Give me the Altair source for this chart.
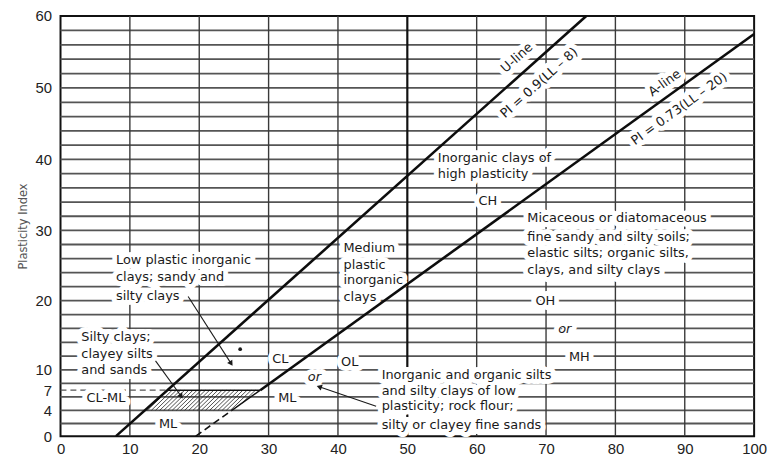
import math
import altair as alt
import pandas as pd
import numpy as np

# ---------------- data ----------------
h_grid_pi = [2, 4, 6, 8, 10, 12, 14, 16, 18, 20, 22, 24, 26, 28, 30, 32, 34, 36,
             38, 40, 42, 44, 46, 48, 50, 52, 54, 56, 58]
v_grid_ll = [10, 20, 30, 40, 60, 70, 80, 90]
b_line_ll = [50]

u_ll = [8, 75.8]
u_pi = [0, 60]
a_ll = [28.8, 100]
a_pi = [7, 57.5]
a_thin_ll = [24.7, 28.8]
a_thin_pi = [4, 7]
a_dash_ll = [19.5, 24.7]
a_dash_pi = [0, 4]
pi7_dash_ll = [0, 15.4]
pi7_top_ll = [15.4, 28.8]
clml_ll = [12.2, 15.4, 28.8, 24.7]   # corners (PI 4, PI 7, PI 7, PI 4)
clml_pi = [4, 7, 7, 4]

left_text = ["Low plastic inorganic", "clays; sandy and", "silty clays",
             "Silty clays;", "clayey silts", "and sands",
             "Medium", "plastic", "inorganic", "clays",
             "Inorganic clays of", "high plasticity",
             "Micaceous or diatomaceous", "fine sandy and silty soils;",
             "elastic silts; organic silts,", "clays, and silty clays",
             "Inorganic and organic silts", "and silty clays of low",
             "plasticity; rock flour;", "silty or clayey fine sands"]
left_ll = [8.0, 8.0, 8.0, 3.0, 3.0, 3.0, 40.8, 40.8, 40.8, 40.8, 54.4, 54.4,
           67.3, 67.3, 67.3, 67.3, 46.3, 46.3, 46.3, 46.3]
left_pi = [25.8, 23.4, 20.7, 14.8, 12.3, 10.0, 27.5, 25.1, 22.9, 20.5, 40.2, 38.0,
           31.7, 29.1, 26.8, 24.4, 9.3, 6.8, 4.6, 1.7]

center_text = ["CL-ML", "ML", "CL", "ML", "OL", "CH", "OH", "MH"]
center_ll = [6.55, 15.5, 31.7, 32.7, 41.7, 61.6, 69.9, 74.8]
center_pi = [5.8, 1.9, 11.6, 5.8, 11.2, 34.1, 20.0, 11.9]

or_text = ["or", "or"]
or_ll = [36.6, 72.7]
or_pi = [9.0, 15.9]

u_lbl_text = ["U-line", "PI = 0.9(LL – 8)"]
u_lbl_ll = [65.8, 69.0]
u_lbl_pi = [54.2, 50.7]
a_lbl_text = ["A-line", "PI = 0.73(LL – 20)"]
a_lbl_ll = [87.1, 89.2]
a_lbl_pi = [50.7, 47.1]

arrow_ll0 = [18.4, 13.7, 45.5]
arrow_pi0 = [20.6, 11.3, 4.6]
arrow_ll1 = [24.6, 17.4, 37.3]
arrow_pi1 = [10.9, 6.1, 7.5]

dot_ll = [25.9]
dot_pi = [13.0]

x_ticks = [0, 10, 20, 30, 40, 50, 60, 70, 80, 90, 100]
y_ticks = [0, 4, 7, 10, 20, 30, 40, 50, 60]

# ---------------- layout / style ----------------
W, H = 700, 424
Y_EXP = 1.03
FONT = "DejaVu Sans"
TXT = "#1a1a1a"

XS = alt.Scale(domain=[0, 100], nice=False, zero=False)
YS = alt.Scale(type="pow", exponent=Y_EXP, domain=[0, 60], nice=False, zero=False)
XAX = alt.Axis(values=x_ticks, title=None, grid=False, ticks=False, domain=False,
               labelFont="Liberation Sans", labelFontSize=15, labelColor="#222",
               labelPadding=6, labelFlush=False)
YAX = alt.Axis(values=y_ticks, title="Plasticity Index", grid=False, ticks=False,
               domain=False, labelFont="Liberation Sans", labelFontSize=15,
               labelColor="#222", labelPadding=9, titleFont=FONT,
               titleFontSize=11.5, titleFontWeight="normal", titleColor="#555",
               titlePadding=7)


def X(f):
    return alt.X(f, type="quantitative", scale=XS, axis=XAX)


def Y(f):
    return alt.Y(f, type="quantitative", scale=YS, axis=YAX)


def seg_df(x0, y0, x1, y1):
    return pd.DataFrame({"x0": x0, "y0": y0, "x1": x1, "y1": y1})


def rules(df, color, width, dash=None):
    kw = dict(color=color, strokeWidth=width)
    if dash is not None:
        kw["strokeDash"] = dash
    return alt.Chart(df).mark_rule(**kw).encode(
        x=X("x0"), y=Y("y0"), x2="x1", y2="y1")


# grid
h_df = seg_df([0] * len(h_grid_pi), h_grid_pi, [100] * len(h_grid_pi), h_grid_pi)
v_df = seg_df(v_grid_ll, [0] * len(v_grid_ll), v_grid_ll, [60] * len(v_grid_ll))
b_df = seg_df(b_line_ll, [0], b_line_ll, [60])

# hatch lines inside the CL-ML trapezoid (slope 1 in data units)
L0, L1, R1, R0 = clml_ll
P0, P1 = clml_pi[0], clml_pi[1]
sl = (L1 - L0) / (P1 - P0)
sr = (R1 - R0) / (P1 - P0)
hx0, hy0, hx1, hy1 = [], [], [], []
for k in np.arange(L0 + 0.3, R1 - (P1 - P0) + 0.0001, 0.6):
    t_hi = min(P1 - P0, (k - L0) / (sl - 1))
    t_lo = max(0.0, (k - R0) / (sr - 1))
    if t_hi > t_lo:
        hx0.append(k + t_lo); hy0.append(P0 + t_lo)
        hx1.append(k + t_hi); hy1.append(P0 + t_hi)
hatch_df = seg_df(hx0, hy0, hx1, hy1)

u_df = seg_df([u_ll[0]], [u_pi[0]], [u_ll[1]], [u_pi[1]])
a_df = seg_df([a_ll[0]], [a_pi[0]], [a_ll[1]], [a_pi[1]])
a_thin_df = seg_df([a_thin_ll[0]], [a_thin_pi[0]], [a_thin_ll[1]], [a_thin_pi[1]])
a_dash_df = seg_df([a_dash_ll[0]], [a_dash_pi[0]], [a_dash_ll[1]], [a_dash_pi[1]])
pi7_dash_df = seg_df([pi7_dash_ll[0]], [7], [pi7_dash_ll[1]], [7])
pi7_top_df = seg_df([pi7_top_ll[0]], [7], [pi7_top_ll[1]], [7])
arrow_df = seg_df(arrow_ll0, arrow_pi0, arrow_ll1, arrow_pi1)


# arrow head orientation (screen space)
def px(ll):
    return ll * W / 100.0


def py(pi):
    return H - H * (pi / 60.0) ** Y_EXP


head_angle = []
for a, b, c, d in zip(arrow_ll0, arrow_pi0, arrow_ll1, arrow_pi1):
    dx = px(c) - px(a)
    dy = py(d) - py(b)
    head_angle.append((math.degrees(math.atan2(dx, -dy)) + 360) % 360)
head_df = pd.DataFrame({"x": arrow_ll1, "y": arrow_pi1, "ang": head_angle})

heads = alt.Chart(head_df).mark_point(shape="triangle-up", filled=True, color=TXT,
                                      size=38, opacity=1).encode(
    x=X("x"), y=Y("y"), angle=alt.Angle("ang:Q", scale=None))

dot = alt.Chart(pd.DataFrame({"x": dot_ll, "y": dot_pi})).mark_circle(
    color=TXT, size=14, opacity=1).encode(x=X("x"), y=Y("y"))


def text_layers(texts, lls, pis, **props):
    df = pd.DataFrame({"t": texts, "x": lls, "y": pis})
    base = dict(font=FONT, fontSize=13, baseline="middle")
    base.update(props)
    halo = alt.Chart(df).mark_text(fill="white", stroke="white", strokeWidth=10,
                                   strokeJoin="round", **base).encode(
        x=X("x"), y=Y("y"), text="t:N")
    txt = alt.Chart(df).mark_text(fill=TXT, **base).encode(
        x=X("x"), y=Y("y"), text="t:N")
    return halo, txt


lh, lt = text_layers(left_text, left_ll, left_pi, align="left")
ch, ct = text_layers(center_text, center_ll, center_pi, align="center")
oh, ot = text_layers(or_text, or_ll, or_pi, align="center", fontStyle="italic")
uh, ut = text_layers(u_lbl_text, u_lbl_ll, u_lbl_pi, align="center", angle=318.3)
ah, at = text_layers(a_lbl_text, a_lbl_ll, a_lbl_pi, align="center", angle=324.3)

chart = alt.layer(
    rules(h_df, "#555555", 1.8),
    rules(v_df, "#3a3a3a", 1.4),
    rules(b_df, "#111111", 2.2),
    rules(pi7_dash_df, "#555555", 1.3, [6, 4]),
    lh, ch, oh, uh, ah,
    rules(hatch_df, "#222222", 0.8),
    rules(pi7_top_df, "#111111", 1.6),
    rules(a_thin_df, "#111111", 1.4),
    rules(a_dash_df, "#111111", 1.6, [7, 4]),
    rules(u_df, "#0d0d0d", 2.6),
    rules(a_df, "#0d0d0d", 2.6),
    rules(arrow_df, TXT, 1.1),
    heads, dot,
    lt, ct, ot, ut, at,
).properties(
    width=W, height=H,
    padding={"left": 53, "top": 6, "right": 13, "bottom": 22},
    autosize=alt.AutoSizeParams(type="none"),
    background="white",
).configure_view(stroke="#111111", strokeWidth=2)

chart.save("out.html", embed_options={"renderer": "svg", "actions": False})
